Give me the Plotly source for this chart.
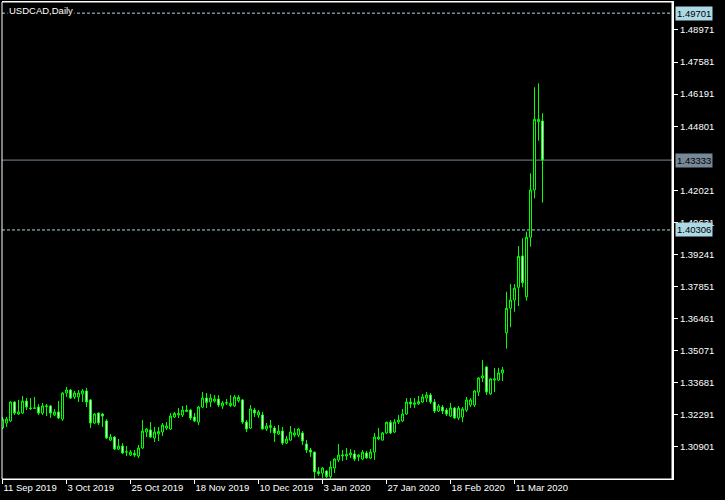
import plotly.graph_objects as go

# ---- data (USDCAD daily) ----
opens = [1.3172, 1.3194, 1.3203, 1.3285, 1.3233, 1.3237, 1.3289, 1.3259, 1.3258, 1.3263,
         1.3237, 1.3265, 1.3268, 1.3229, 1.3242, 1.3211, 1.3324, 1.3337, 1.3307, 1.3307,
         1.3320, 1.3333, 1.3294, 1.3194, 1.3237, 1.3233, 1.3203, 1.3120, 1.3133, 1.3081,
         1.3094, 1.3068, 1.3055, 1.3062, 1.3051, 1.3086, 1.3155, 1.3164, 1.3129, 1.3146,
         1.3155, 1.3172, 1.3168, 1.3220, 1.3229, 1.3229, 1.3244, 1.3250, 1.3220, 1.3198,
         1.3263, 1.3302, 1.3285, 1.3289, 1.3298, 1.3268, 1.3280, 1.3270, 1.3268, 1.3291,
         1.3294, 1.3198, 1.3172, 1.3250, 1.3229, 1.3229, 1.3168, 1.3175, 1.3172, 1.3146,
         1.3159, 1.3107, 1.3120, 1.3142, 1.3142, 1.3151, 1.3103, 1.3077, 1.3068, 1.2983,
         1.2977, 1.2986, 1.2962, 1.2999, 1.3034, 1.3051, 1.3051, 1.3056, 1.3060, 1.3047,
         1.3038, 1.3064, 1.3042, 1.3068, 1.3125, 1.3120, 1.3151, 1.3197, 1.3155, 1.3198,
         1.3203, 1.3233, 1.3285, 1.3275, 1.3277, 1.3285, 1.3302, 1.3315, 1.3285, 1.3246,
         1.3263, 1.3250, 1.3224, 1.3259, 1.3216, 1.3220, 1.3250, 1.3272, 1.3272, 1.3328,
         1.3389, 1.3437, 1.3320, 1.3380, 1.3380, 1.3411, 1.3585, 1.3691, 1.3727, 1.3782,
         1.3918, 1.3741, 1.3999, 1.4204, 1.4500, 1.4503]
highs = [1.3220, 1.3220, 1.3289, 1.3289, 1.3294, 1.3311, 1.3302, 1.3302, 1.3307, 1.3276,
         1.3281, 1.3276, 1.3272, 1.3255, 1.3289, 1.3328, 1.3350, 1.3341, 1.3333, 1.3337,
         1.3341, 1.3346, 1.3298, 1.3237, 1.3240, 1.3237, 1.3211, 1.3146, 1.3138, 1.3125,
         1.3107, 1.3094, 1.3077, 1.3077, 1.3099, 1.3207, 1.3172, 1.3198, 1.3177, 1.3177,
         1.3194, 1.3198, 1.3237, 1.3242, 1.3259, 1.3268, 1.3272, 1.3255, 1.3237, 1.3268,
         1.3328, 1.3324, 1.3320, 1.3315, 1.3315, 1.3289, 1.3298, 1.3315, 1.3315, 1.3315,
         1.3298, 1.3207, 1.3272, 1.3259, 1.3250, 1.3242, 1.3194, 1.3207, 1.3181, 1.3185,
         1.3177, 1.3138, 1.3181, 1.3172, 1.3172, 1.3159, 1.3120, 1.3086, 1.3070, 1.3003,
         1.3003, 1.2990, 1.3029, 1.3042, 1.3103, 1.3077, 1.3086, 1.3081, 1.3077, 1.3060,
         1.3077, 1.3073, 1.3081, 1.3151, 1.3172, 1.3155, 1.3200, 1.3207, 1.3211, 1.3229,
         1.3255, 1.3302, 1.3302, 1.3302, 1.3311, 1.3320, 1.3328, 1.3324, 1.3298, 1.3276,
         1.3272, 1.3259, 1.3281, 1.3263, 1.3268, 1.3263, 1.3307, 1.3302, 1.3337, 1.3393,
         1.3467, 1.3441, 1.3389, 1.3433, 1.3433, 1.3437, 1.3763, 1.3796, 1.3796, 1.3961,
         1.3995, 1.4023, 1.4276, 1.4649, 1.4666, 1.4536]
lows = [1.3168, 1.3177, 1.3198, 1.3229, 1.3229, 1.3233, 1.3250, 1.3250, 1.3255, 1.3229,
        1.3229, 1.3224, 1.3216, 1.3224, 1.3211, 1.3203, 1.3307, 1.3298, 1.3298, 1.3285,
        1.3285, 1.3263, 1.3172, 1.3190, 1.3185, 1.3177, 1.3125, 1.3116, 1.3077, 1.3077,
        1.3060, 1.3051, 1.3051, 1.3047, 1.3042, 1.3081, 1.3133, 1.3129, 1.3112, 1.3116,
        1.3138, 1.3164, 1.3164, 1.3216, 1.3216, 1.3220, 1.3242, 1.3207, 1.3198, 1.3185,
        1.3259, 1.3259, 1.3263, 1.3283, 1.3263, 1.3255, 1.3272, 1.3263, 1.3263, 1.3283,
        1.3190, 1.3155, 1.3168, 1.3220, 1.3216, 1.3164, 1.3159, 1.3151, 1.3112, 1.3142,
        1.3099, 1.3103, 1.3116, 1.3133, 1.3133, 1.3099, 1.3064, 1.3047, 1.2952, 1.2965,
        1.2956, 1.2956, 1.2952, 1.2977, 1.3025, 1.3029, 1.3034, 1.3042, 1.3029, 1.3029,
        1.3034, 1.3038, 1.3038, 1.3034, 1.3120, 1.3118, 1.3146, 1.3146, 1.3151, 1.3190,
        1.3198, 1.3229, 1.3259, 1.3259, 1.3272, 1.3281, 1.3285, 1.3276, 1.3237, 1.3242,
        1.3233, 1.3224, 1.3220, 1.3211, 1.3207, 1.3198, 1.3242, 1.3263, 1.3263, 1.3311,
        1.3372, 1.3316, 1.3316, 1.3328, 1.3376, 1.3376, 1.3516, 1.3609, 1.3676, 1.3701,
        1.3782, 1.3724, 1.3958, 1.4168, 1.4417, 1.4149]
closes = [1.3211, 1.3211, 1.3285, 1.3237, 1.3242, 1.3289, 1.3263, 1.3257, 1.3259, 1.3237,
          1.3268, 1.3268, 1.3237, 1.3242, 1.3216, 1.3324, 1.3337, 1.3302, 1.3324, 1.3324,
          1.3333, 1.3285, 1.3194, 1.3233, 1.3194, 1.3224, 1.3129, 1.3133, 1.3081, 1.3094,
          1.3064, 1.3069, 1.3068, 1.3055, 1.3086, 1.3159, 1.3168, 1.3133, 1.3155, 1.3157,
          1.3185, 1.3181, 1.3224, 1.3235, 1.3235, 1.3250, 1.3250, 1.3216, 1.3203, 1.3263,
          1.3302, 1.3283, 1.3302, 1.3298, 1.3272, 1.3281, 1.3282, 1.3279, 1.3307, 1.3305,
          1.3198, 1.3168, 1.3255, 1.3237, 1.3242, 1.3168, 1.3181, 1.3183, 1.3151, 1.3159,
          1.3107, 1.3125, 1.3155, 1.3151, 1.3168, 1.3116, 1.3077, 1.3068, 1.2982, 1.2975,
          1.2999, 1.2962, 1.3003, 1.3038, 1.3055, 1.3055, 1.3058, 1.3064, 1.3038, 1.3055,
          1.3068, 1.3043, 1.3068, 1.3133, 1.3133, 1.3151, 1.3197, 1.3151, 1.3198, 1.3207,
          1.3233, 1.3285, 1.3277, 1.3281, 1.3287, 1.3307, 1.3315, 1.3285, 1.3246, 1.3268,
          1.3246, 1.3233, 1.3259, 1.3216, 1.3259, 1.3255, 1.3294, 1.3294, 1.3333, 1.3389,
          1.3398, 1.3328, 1.3385, 1.3385, 1.3411, 1.3424, 1.3691, 1.3727, 1.3778, 1.3916,
          1.3802, 1.3999, 1.4204, 1.4510, 1.4510, 1.43333]

date_tick_bars = [0, 16, 32, 48, 64, 80, 96, 112, 128]
date_tick_labels = ["11 Sep 2019", "3 Oct 2019", "25 Oct 2019", "18 Nov 2019", "10 Dec 2019",
                    "3 Jan 2020", "27 Jan 2020", "18 Feb 2020", "11 Mar 2020"]
price_ticks = [1.30901, 1.32291, 1.33681, 1.35071, 1.36461, 1.37851, 1.39241, 1.40631,
               1.42021, 1.44801, 1.46191, 1.47581, 1.48971]
high_level = 1.49701
bid_level = 1.43333
low_level = 1.40306
title_text = "USDCAD,Daily"

bars = list(range(len(opens)))

FONT = "Liberation Sans, Arial, sans-serif"
GREEN = "#00FF00"

fig = go.Figure(go.Candlestick(
    x=bars, open=opens, high=highs, low=lows, close=closes,
    increasing=dict(line=dict(color=GREEN, width=1), fillcolor="black"),
    decreasing=dict(line=dict(color=GREEN, width=1), fillcolor="white"),
    whiskerwidth=0, hoverinfo="skip",
))

fig.update_layout(
    width=725, height=500,
    margin=dict(l=2, r=53, t=2, b=21),
    paper_bgcolor="black", plot_bgcolor="black",
    showlegend=False,
    boxgap=0.5, boxgroupgap=0,
    font=dict(family=FONT, size=9.5, color="white"),
    xaxis=dict(
        range=[-0.125, 167.375], rangeslider=dict(visible=False),
        showgrid=False, zeroline=False,
        tickmode="array", tickvals=date_tick_bars, ticktext=date_tick_labels,
        ticks="outside", ticklen=4, tickcolor="white", tickwidth=1,
        ticklabelposition="outside right",
        tickfont=dict(family=FONT, size=9.5, color="white"),
        showline=True, linecolor="white", linewidth=1, mirror=True,
    ),
    yaxis=dict(
        range=[1.29514, 1.50184], side="right",
        showgrid=False, zeroline=False,
        tickmode="array", tickvals=price_ticks, tickformat=".5f",
        ticks="outside", ticklen=4, tickcolor="white", tickwidth=1,
        tickfont=dict(family=FONT, size=9.5, color="white"),
        showline=True, linecolor="white", linewidth=2,
    ),
)

# frame
fig.add_shape(type="rect", xref="paper", yref="paper", x0=0, x1=1, y0=0, y1=1,
              line=dict(color="white", width=1), layer="above")

# price lines with their axis labels
for lvl, col, dash in [(high_level, "#ADD8E6", "3px,2px"),
                       (bid_level, "#778899", "solid"),
                       (low_level, "#ADD8E6", "3px,2px")]:
    fig.add_shape(type="line", xref="paper", yref="y", x0=0, x1=1, y0=lvl, y1=lvl,
                  line=dict(color=col, width=1, dash=dash), layer="below")
    fig.add_annotation(xref="paper", yref="y", x=1.0045, y=lvl, xanchor="left", yanchor="middle",
                       text=f"{lvl:.5f}", showarrow=False, bgcolor=col, borderpad=1,
                       font=dict(family=FONT, size=9.5, color="black"))

fig.add_annotation(xref="paper", yref="paper", x=0.0075, y=0.982, xanchor="left", yanchor="middle",
                   text=title_text, showarrow=False, bgcolor="black",
                   font=dict(family=FONT, size=9.5, color="white"))

fig.write_html("out.html",
               config={"displayModeBar": False},
               post_script="document.body.style.margin='0';document.body.style.padding='0';"
                           "document.body.style.overflow='hidden';")
